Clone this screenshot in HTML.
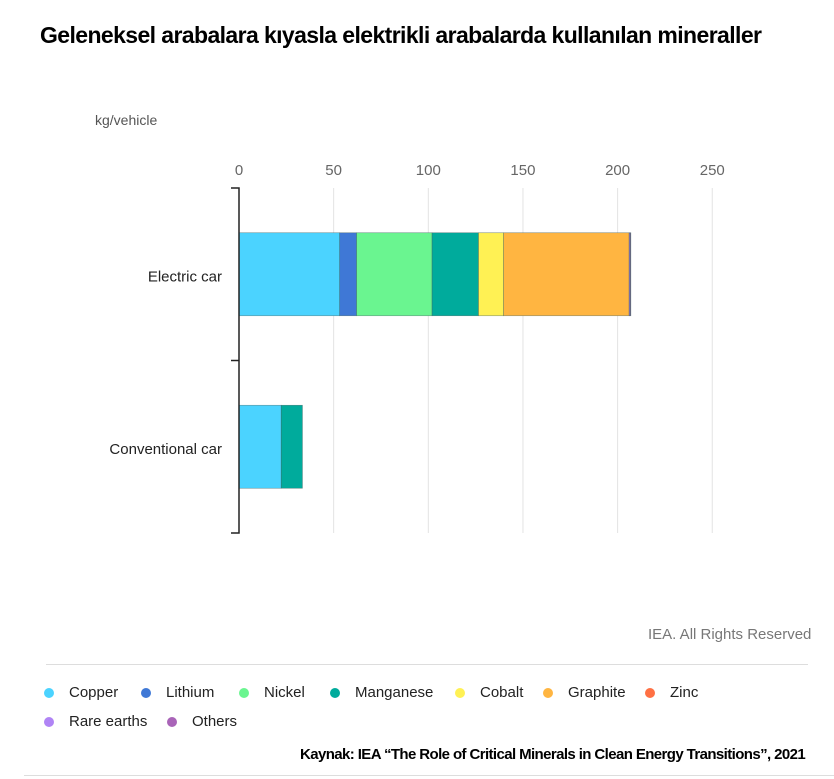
<!DOCTYPE html>
<html><head><meta charset="utf-8"><style>
body{margin:0;width:834px;height:779px;background:#fff;font-family:"Liberation Sans",sans-serif;overflow:hidden;position:relative}
.t{position:absolute;white-space:nowrap}
</style></head><body>
<div class="t" style="left:40px;top:22px;font-size:23px;font-weight:bold;letter-spacing:-0.6px;color:#000">Geleneksel arabalara kıyasla elektrikli arabalarda kullanılan mineraller</div>
<div class="t" style="left:95px;top:112px;font-size:14px;color:#555">kg/vehicle</div>
<svg id="chart" width="834" height="779" style="position:absolute;left:0;top:0"></svg>
<div class="t" style="left:648px;top:626px;font-size:15px;color:#777">IEA. All Rights Reserved</div>
<div style="position:absolute;left:46px;top:664px;width:762px;height:1px;background:#ddd"></div>
<div id="legend"></div>
<div class="t" style="left:300px;top:746px;font-size:15px;font-weight:bold;letter-spacing:-0.6px;color:#000">Kaynak: IEA “The Role of Critical Minerals in Clean Energy Transitions”, 2021</div>
<div style="position:absolute;left:24px;top:775px;width:810px;height:1px;background:#ddd"></div>
<script>
const categories=["Electric car","Conventional car"];
const series=["Copper","Lithium","Nickel","Manganese","Cobalt","Graphite","Zinc","Rare earths","Others"];
const colors=["#4bd3ff","#3f78d6","#6af590","#00ab9c","#fff154","#ffb541","#ff7043","#b084f5","#a964b8"];
const electricValues=[53.2,8.9,39.9,24.5,13.3,66.3,0.1,0.5,0.3];
const conventionalValues=[22.3,0,0,11.2,0,0,0,0,0];
const ticks=[0,50,100,150,200,250];
const values=[electricValues,conventionalValues];
const NS="http://www.w3.org/2000/svg",svg=document.getElementById('chart');
const x0=239,pxPer=1.893,yTop=188,yBot=533;
const x=v=>x0+v*pxPer;
const band=(yBot-yTop)/categories.length;
function mk(t,a){const e=document.createElementNS(NS,t);for(const k in a)e.setAttribute(k,a[k]);svg.appendChild(e);return e;}
ticks.forEach(t=>{
 if(t>0){const g=mk('line',{x1:x(t),x2:x(t),y1:yTop,y2:yBot,stroke:'#e3e3e3','stroke-width':1});
 
 }
 const l=mk('text',{x:x(t),y:175,'text-anchor':'middle','font-size':15,fill:'#666','font-family':'Liberation Sans'});
 l.textContent=t;
 
 
});
categories.forEach((c,i)=>{
 const yc=yTop+band*(i+0.5),h=83;
 let acc=0;
 values[i].forEach((v,j)=>{
  if(v<=0)return;
  const r=mk('rect',{x:x(acc),y:yc-h/2,width:v*pxPer,height:h,fill:colors[j],stroke:'#3a5a5a','stroke-width':0.6,'stroke-opacity':0.6});
  
  
  acc+=v;
 });
 const t=mk('text',{x:222,y:yc+7,'text-anchor':'end','font-size':15,fill:'#222','font-family':'Liberation Sans'});
 t.textContent=c;
 
 
});
const ax=mk('path',{d:`M231 ${yTop}H${x0}V${yBot}H231M231 ${yTop+band}H${x0}`,fill:'none',stroke:'#222','stroke-width':1.5});


const lg=document.getElementById('legend');
const pos=[[49,694],[146,694],[244,694],[335,694],[460,694],[548,694],[650,694],[49,723],[172,723]];
series.forEach((s,i)=>{
 const d=document.createElement('div');
 
 
 d.className='t';
 d.style.cssText=`left:${pos[i][0]-5}px;top:${pos[i][1]-10}px;font-size:15px;color:#222;display:flex;align-items:center`;
 d.innerHTML=`<span style="display:inline-block;width:10px;height:10px;border-radius:50%;background:${colors[i]};margin-right:15px"></span>${s}`;
 lg.appendChild(d);
});
</script>
</body></html>
